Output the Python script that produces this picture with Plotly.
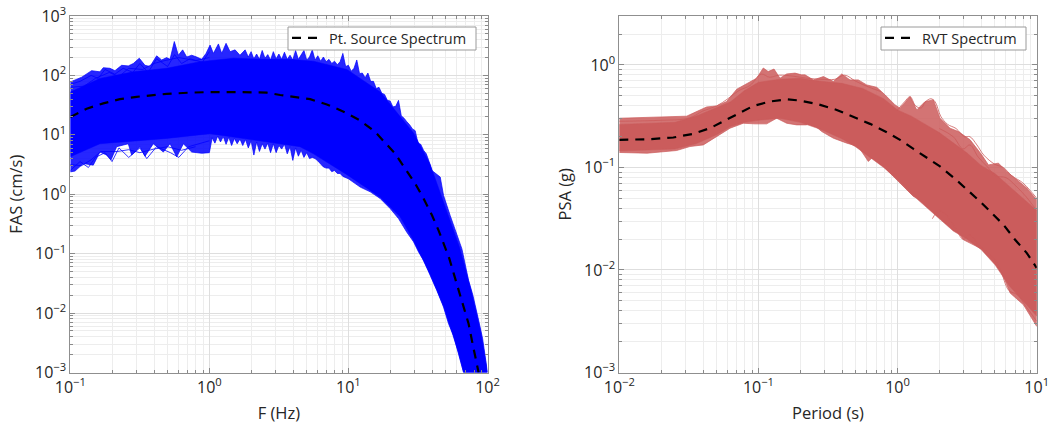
import plotly.graph_objects as go

FONT = "Open Sans"
TXT = "#262626"

# ---------- FAS panel: log10(F), log10(FAS) ----------
fas_up_x = [-1.0,-.966,-.918,-.847,-.787,-.763,-.715,-.679,-.631,-.583,-.547,-.504,-.463,-.427,-.379,-.343,-.307,-.283,-.252,-.223,-.192,-.163,-.127,-.091,-.055,-.024,.005,.029,.065,.089,.12,.149,.185,.22,.257,.28,.30,.32,.34,.36,.38,.40,.42,.44,.46,.48,.50,.52,.54,.56,.58,.60,.62,.64,.66,.68,.70,.72,.74,.76,.78,.80,.82,.84,.86,.88,.90,.92,.94,.96,.98,1.0,1.02,1.04,1.06,1.08,1.10,1.12,1.14,1.16,1.18,1.20,1.22,1.24,1.26,1.28,1.30,1.32,1.34,1.36,1.38,1.40,1.42,1.44,1.46,1.48,1.50,1.52,1.54,1.56,1.58,1.60,1.66,1.684,1.732,1.78,1.816,1.864,1.895,1.936,1.965,2.0]
fas_up_y = [1.89,1.92,1.97,2.08,2.06,2.13,2.12,2.08,2.17,2.16,2.20,2.29,2.17,2.15,2.33,2.26,2.30,2.27,2.57,2.34,2.43,2.31,2.34,2.31,2.27,2.37,2.51,2.37,2.53,2.37,2.54,2.40,2.43,2.34,2.43,2.31,2.40,2.28,2.36,2.27,2.42,2.29,2.35,2.26,2.40,2.28,2.36,2.27,2.39,2.27,2.34,2.26,2.42,2.27,2.35,2.42,2.26,2.31,2.43,2.26,2.33,2.24,2.31,2.23,2.27,2.20,2.24,2.18,2.23,2.37,2.15,2.17,2.07,2.12,2.26,2.03,2.04,1.96,2.04,1.90,1.90,1.78,1.80,1.70,1.68,1.58,1.57,1.47,1.48,1.58,1.32,1.28,1.22,1.17,1.10,1.07,.86,.84,.74,.68,.55,.40,.29,-.02,-.36,-.69,-.92,-1.45,-1.70,-2.12,-2.43,-3.0]
fas_lo_x = [-1.0,-.966,-.906,-.835,-.787,-.739,-.707,-.667,-.583,-.559,-.499,-.463,-.403,-.331,-.283,-.235,-.187,-.127,-.055,0,.02,.04,.06,.08,.10,.12,.14,.16,.18,.20,.22,.24,.26,.28,.30,.32,.34,.36,.38,.40,.42,.44,.46,.48,.50,.52,.54,.56,.58,.60,.62,.64,.66,.68,.70,.72,.74,.76,.78,.80,.82,.84,.86,.88,.90,.92,.94,.96,.98,1.0,1.085,1.157,1.228,1.30,1.36,1.42,1.468,1.504,1.54,1.588,1.636,1.684,1.72,1.756,1.792,1.828]
fas_lo_y = [.376,.39,.517,.49,.71,.66,.58,.80,.85,.66,.80,.64,.85,.71,.85,.63,.85,.71,.69,.70,.95,.86,.98,.88,.97,.84,.96,.82,.94,.85,.93,.82,.92,.78,.90,.66,.88,.72,.85,.76,.86,.70,.85,.70,.82,.76,.84,.68,.80,.57,.78,.64,.74,.62,.70,.60,.62,.60,.56,.52,.46,.44,.44,.38,.40,.35,.35,.30,.28,.26,.12,.04,-.07,-.24,-.41,-.64,-.80,-.97,-1.11,-1.37,-1.62,-1.90,-2.18,-2.38,-2.69,-3.0]
fas_core_up_x = [-1.0,-.787,-.547,-.307,-.067,.173,.412,.58,.749,.989,1.229,1.468,1.588,1.708,1.80,1.88,1.95,2.0]
fas_core_up_y = [1.72,1.95,2.06,2.12,2.23,2.29,2.27,2.27,2.24,2.10,1.72,1.03,.50,-.30,-.90,-1.60,-2.30,-3.0]
fas_core_lo_x = [-1.0,-.787,-.307,.005,.317,.652,.749,.989,1.229,1.372,1.468,1.588,1.684,1.792,1.828]
fas_core_lo_y = [.63,.85,.94,1.02,.92,.80,.68,.33,-.05,-.38,-.78,-1.35,-1.88,-2.67,-3.0]
fas_mean_x = [-1.0,-.882,-.763,-.643,-.523,-.307,-.139,.005,.22,.412,.509,.604,.725,.845,.965,1.085,1.192,1.264,1.336,1.408,1.48,1.54,1.60,1.648,1.684,1.725,1.761,1.797,1.828,1.864,1.893,1.92,1.936]
fas_mean_y = [1.30,1.44,1.53,1.60,1.64,1.69,1.71,1.72,1.72,1.71,1.67,1.64,1.60,1.51,1.39,1.24,1.05,.865,.685,.43,.18,-.07,-.35,-.607,-.83,-1.08,-1.365,-1.65,-1.90,-2.18,-2.52,-2.83,-3.0]

fas_strand1_x = [-1,-.93,-.85,-.80,-.75,-.68,-.62,-.55,-.50,-.44,-.38,-.30,-.25,-.2,-.14,-.05,0]
fas_strand1_y = [1.85,1.90,2.0,1.95,2.10,2.02,2.12,2.05,2.20,2.05,2.28,2.15,2.35,2.2,2.28,2.22,2.4]
fas_strand2_x = [-1,-.9,-.82,-.72,-.65,-.58,-.48,-.4,-.32,-.22,-.1,0]
fas_strand2_y = [1.8,1.82,1.95,2.05,1.98,2.12,2.1,2.2,2.25,2.3,2.25,2.3]
fas_strand3_x = [-1,-.93,-.87,-.82,-.75,-.70,-.65,-.58,-.5,-.45,-.38,-.28,-.22,-.15,0]
fas_strand3_y = [.40,.55,.45,.62,.70,.55,.78,.62,.78,.6,.8,.7,.62,.8,.9]
fas_strand4_x = [-1,-.92,-.85,-.78,-.66,-.58,-.5,-.4,-.3,-.2,-.1]
fas_strand4_y = [.5,.48,.58,.72,.72,.75,.7,.76,.8,.74,.8]

# ---------- PSA panel: log10(Period), log10(PSA) ----------
psa_up_x = [-2,-1.78,-1.67,-1.516,-1.468,-1.372,-1.30,-1.228,-1.156,-1.085,-1.013,-.965,-.93,-.888,-.845,-.797,-.737,-.69,-.665,-.605,-.533,-.461,-.401,-.342,-.282,-.222,-.15,-.09,-.018,.018,.09,.138,.198,.258,.305,.377,.437,.521,.605,.653,.725,.785,.857,.929,1.0]
psa_up_y = [-.52,-.51,-.50,-.50,-.47,-.41,-.40,-.357,-.237,-.185,-.13,-.03,-.065,-.04,-.13,-.088,-.08,-.097,-.097,-.146,-.114,-.162,-.088,-.146,-.146,-.195,-.218,-.292,-.39,-.422,-.309,-.439,-.357,-.341,-.52,-.617,-.65,-.73,-.877,-.975,-.958,-1.04,-1.12,-1.20,-1.316]
psa_lo_x = [-2,-1.80,-1.588,-1.492,-1.396,-1.30,-1.204,-1.109,-1.025,-.941,-.869,-.797,-.725,-.653,-.629,-.545,-.461,-.365,-.282,-.21,-.162,-.078,.018,.114,.222,.27,.353,.473,.521,.641,.737,.809,.905,1.0]
psa_lo_y = [-.854,-.861,-.835,-.796,-.78,-.70,-.617,-.569,-.575,-.575,-.52,-.569,-.585,-.585,-.552,-.65,-.715,-.763,-.796,-.942,-.877,-1.023,-1.153,-1.283,-1.348,-1.46,-1.46,-1.705,-1.738,-1.82,-1.98,-2.225,-2.34,-2.55]
psa_core_up_x = [-2,-1.6,-1.45,-1.3,-1.2,-1.1,-1,-.85,-.7,-.55,-.4,-.25,-.1,0,.1,.2,.3,.4,.5,.6,.7,.8,.9,1]
psa_core_up_y = [-.58,-.56,-.50,-.42,-.36,-.25,-.17,-.14,-.13,-.16,-.18,-.23,-.33,-.44,-.50,-.58,-.66,-.76,-.86,-.98,-1.06,-1.18,-1.30,-1.42]
psa_core_lo_x = [-2,-1.6,-1.45,-1.3,-1.2,-1.1,-1,-.85,-.7,-.55,-.4,-.3,-.2,-.1,0,.1,.2,.3,.4,.5,.6,.7,.8,.9,1]
psa_core_lo_y = [-.84,-.82,-.77,-.68,-.60,-.56,-.54,-.52,-.56,-.63,-.72,-.80,-.90,-1.0,-1.12,-1.26,-1.38,-1.50,-1.62,-1.70,-1.80,-1.95,-2.15,-2.3,-2.45]
psa_mean_x = [-2,-1.78,-1.612,-1.468,-1.348,-1.252,-1.133,-1.037,-.917,-.797,-.701,-.581,-.437,-.318,-.198,-.078,.018,.114,.222,.305,.413,.509,.593,.677,.761,.845,.929,1.0]
psa_mean_y = [-.731,-.724,-.708,-.672,-.617,-.552,-.465,-.40,-.357,-.335,-.348,-.38,-.439,-.504,-.575,-.656,-.731,-.819,-.916,-.99,-1.111,-1.225,-1.332,-1.445,-1.559,-1.705,-1.835,-1.98]

psa_strand1_x = [0,.05,.09,.13,.17,.2,.24,.27,.31,.36,.42,.48,.52,.57,.62,.7,.76,.82,.9,.95,1]
psa_strand1_y = [-.44,-.36,-.31,-.40,-.42,-.36,-.33,-.36,-.50,-.58,-.62,-.70,-.70,-.78,-.88,-.97,-1.0,-1.08,-1.15,-1.22,-1.30]
psa_strand2_x = [.3,.4,.47,.52,.58,.65,.7,.78,.85,.92,1]
psa_strand2_y = [-.62,-.7,-.82,-.78,-.9,-1.0,-1.08,-1.10,-1.18,-1.28,-1.42]
psa_strand3_x = [.25,.3,.36,.42,.47,.52,.58,.64,.7,.74,.8,.86,.92,1]
psa_strand3_y = [-1.5,-1.42,-1.48,-1.6,-1.7,-1.66,-1.75,-1.82,-1.9,-2.0,-2.2,-2.24,-2.35,-2.5]
psa_strand4_x = [-2,-1.7,-1.5,-1.4,-1.3,-1.22,-1.14,-1.06,-.98,-.92,-.85,-.75,-.65,-.55,-.45,-.38,-.3,-.2,-.12]
psa_strand4_y = [-.55,-.54,-.52,-.45,-.40,-.33,-.25,-.20,-.09,-.12,-.10,-.11,-.13,-.14,-.14,-.10,-.16,-.22,-.26]

left_x_ticks = [-1, 0, 1, 2]
left_y_ticks = [-3, -2, -1, 0, 1, 2, 3]
right_x_ticks = [-2, -1, 0, 1]
right_y_ticks = [-3, -2, -1, 0]


def p10(v):
    return [10.0 ** a for a in v]


def band(xu, yu, xl, yl):
    return p10(list(xu) + list(xl)[::-1]), p10(list(yu) + list(yl)[::-1])


def label(p):
    s = str(abs(p))
    return "10<sup>" + ("\u2212" if p < 0 else "") + s + "</sup>"


def minors(lo, hi):
    return [m * 10.0 ** d for d in range(lo, hi) for m in range(2, 10)]


def axis(ticks, rng, title, domain, minor_vals, standoff=None):
    t = dict(text=title, font=dict(family=FONT, size=16.5, color=TXT))
    if standoff is not None:
        t["standoff"] = standoff
    return dict(
        type="log", range=rng, domain=domain, tickmode="array", automargin=False,
        tickvals=p10(ticks), ticktext=[label(v) for v in ticks],
        ticks="inside", ticklen=5, tickcolor="#8a8a8a", tickwidth=1,
        showline=True, linecolor="#8f8f8f", linewidth=1, mirror="ticks",
        showgrid=True, gridcolor="#dedede", gridwidth=1, zeroline=False,
        tickfont=dict(family=FONT, size=16, color=TXT),
        title=t,
        minor=dict(tickmode="array", tickvals=minor_vals, ticks="inside", ticklen=3,
                   tickcolor="#8a8a8a", showgrid=True, gridcolor="#ededed", gridwidth=1),
    )


W, H = 1052, 424
BLUE, RED = "#0000ff", "#cb5c5c"
fig = go.Figure()

x, y = band(fas_up_x, fas_up_y, fas_lo_x, fas_lo_y)
fig.add_trace(go.Scatter(x=x, y=y, fill="toself", fillcolor="rgba(0,0,255,0.85)", mode="lines",
                         line=dict(color=BLUE, width=0.7), showlegend=False, hoverinfo="skip"))
x, y = band(fas_core_up_x, fas_core_up_y, fas_core_lo_x, fas_core_lo_y)
fig.add_trace(go.Scatter(x=x, y=y, fill="toself", fillcolor=BLUE, mode="lines",
                         line=dict(color=BLUE, width=0.5), showlegend=False, hoverinfo="skip"))
for sx, sy in [(fas_strand1_x, fas_strand1_y), (fas_strand2_x, fas_strand2_y),
               (fas_strand3_x, fas_strand3_y), (fas_strand4_x, fas_strand4_y)]:
    fig.add_trace(go.Scatter(x=p10(sx), y=p10(sy), mode="lines", line=dict(color=BLUE, width=0.8),
                             showlegend=False, hoverinfo="skip"))
fig.add_trace(go.Scatter(x=p10(fas_mean_x), y=p10(fas_mean_y), mode="lines", name="Pt. Source Spectrum",
                         line=dict(color="black", width=2.2, dash="9px,7px"), legend="legend"))

x, y = band(psa_up_x, psa_up_y, psa_lo_x, psa_lo_y)
fig.add_trace(go.Scatter(x=x, y=y, xaxis="x2", yaxis="y2", fill="toself", fillcolor="rgba(203,92,92,0.85)",
                         mode="lines", line=dict(color=RED, width=0.7), showlegend=False, hoverinfo="skip"))
x, y = band(psa_core_up_x, psa_core_up_y, psa_core_lo_x, psa_core_lo_y)
fig.add_trace(go.Scatter(x=x, y=y, xaxis="x2", yaxis="y2", fill="toself", fillcolor=RED, mode="lines",
                         line=dict(color=RED, width=0.5), showlegend=False, hoverinfo="skip"))
for sx, sy in [(psa_strand1_x, psa_strand1_y), (psa_strand2_x, psa_strand2_y),
               (psa_strand3_x, psa_strand3_y), (psa_strand4_x, psa_strand4_y)]:
    fig.add_trace(go.Scatter(x=p10(sx), y=p10(sy), xaxis="x2", yaxis="y2", mode="lines",
                             line=dict(color=RED, width=0.8, shape="spline"),
                             showlegend=False, hoverinfo="skip"))
fig.add_trace(go.Scatter(x=p10(psa_mean_x), y=p10(psa_mean_y), xaxis="x2", yaxis="y2", mode="lines",
                         name="RVT Spectrum", line=dict(color="black", width=2.2, dash="9px,7px"),
                         legend="legend2"))

yd = [1 - 372.5 / H, 1 - 16 / H]
legfont = dict(family=FONT, size=14.5, color=TXT)


def box(x0, x1):
    return dict(type="rect", xref="paper", yref="paper", x0=x0 / W, x1=x1 / W,
                y0=1 - 50 / H, y1=1 - 27 / H, fillcolor="white",
                line=dict(color="#9a9a9a", width=1), layer="above")


fig.update_layout(
    width=W, height=H, margin=dict(l=0, r=0, t=0, b=0),
    paper_bgcolor="white", plot_bgcolor="white", font=dict(family=FONT, color=TXT),
    xaxis=axis(left_x_ticks, [-1, 2], "F (Hz)", [70.3 / W, 487.5 / W], minors(-1, 2)),
    yaxis=axis(left_y_ticks, [-3, 3], "FAS (cm/s)", yd, minors(-3, 3), 8),
    xaxis2=dict(axis(right_x_ticks, [-2, 1], "Period (s)", [619.3 / W, 1036.7 / W], minors(-2, 1)), anchor="y2"),
    yaxis2=dict(axis(right_y_ticks, [-3, 0.4771], "PSA (g)", yd, minors(-3, 0) + [2.0, 3.0], 8), anchor="x2"),
    shapes=[box(288, 476), box(881, 1026)],
    legend=dict(x=287 / W, xanchor="left", y=1 - 22 / H, yanchor="top", bgcolor="rgba(0,0,0,0)",
                borderwidth=0, font=legfont, itemwidth=32),
    legend2=dict(x=880 / W, xanchor="left", y=1 - 22 / H, yanchor="top", bgcolor="rgba(0,0,0,0)",
                 borderwidth=0, font=legfont, itemwidth=32),
)
fig.write_html("out.html", post_script="document.body.style.margin='0';",
               config=dict(displayModeBar=False))
